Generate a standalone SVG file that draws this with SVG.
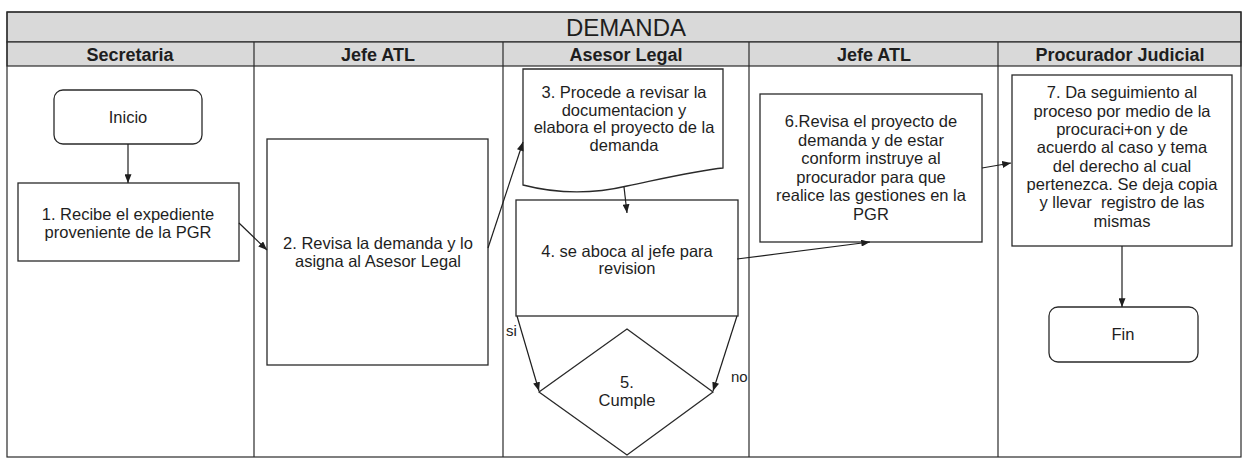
<svg xmlns="http://www.w3.org/2000/svg" width="1246" height="458" viewBox="0 0 1246 458">
<style>
.t{font-family:"Liberation Sans",Arial,sans-serif;font-size:16.5px;fill:#1e1e1e;text-anchor:middle}
.l{font-family:"Liberation Sans",Arial,sans-serif;font-size:15px;fill:#1e1e1e}
.h{font-family:"Liberation Sans",Arial,sans-serif;font-size:18px;font-weight:bold;fill:#1e1e1e;text-anchor:middle}
.ti{font-family:"Liberation Sans",Arial,sans-serif;font-size:24px;fill:#1e1e1e;text-anchor:middle}
.box{fill:#fff;stroke:#2a2a2a;stroke-width:1.3}
.ln{fill:none;stroke:#2a2a2a;stroke-width:1.2}
.hdr{fill:#d9d9d9;stroke:#2a2a2a;stroke-width:1.2}
.c{fill:none;stroke:#1e1e1e;stroke-width:1.2;marker-end:url(#ah)}
</style>
<defs>
<marker id="ah" viewBox="0 0 10 8" refX="10" refY="4" markerWidth="9" markerHeight="7" markerUnits="userSpaceOnUse" orient="auto"><path d="M0,0 L10,4 L0,8 z" fill="#1e1e1e"/></marker>
</defs>
<rect x="0" y="0" width="1246" height="458" fill="#fff"/>
<g id="frame">
<rect class="hdr" x="7" y="12" width="1234" height="30"/>
<rect class="hdr" x="7" y="42" width="1234" height="24"/>
<rect class="ln" x="7" y="12" width="1234" height="445"/>
<line class="ln" x1="254" y1="42" x2="254" y2="457"/>
<line class="ln" x1="503" y1="42" x2="503" y2="457"/>
<line class="ln" x1="749" y1="42" x2="749" y2="457"/>
<line class="ln" x1="998" y1="42" x2="998" y2="457"/>
<text class="ti" x="626" y="36">DEMANDA</text>
<text class="h" x="130" y="61">Secretaria</text>
<text class="h" x="378" y="61">Jefe ATL</text>
<text class="h" x="626" y="61">Asesor Legal</text>
<text class="h" x="874" y="61">Jefe ATL</text>
<text class="h" x="1120" y="61">Procurador Judicial</text>
</g>
<g id="inicio">
<rect class="box" x="54" y="90" width="148" height="54" rx="9"/>
<text class="t" x="128" y="123">Inicio</text>
</g>
<g id="n1">
<rect class="box" x="18" y="183" width="221" height="78"/>
<text class="t" x="128" y="220">1. Recibe el expediente</text>
<text class="t" x="128" y="238">proveniente de la PGR</text>
</g>
<g id="n2">
<rect class="box" x="267" y="139" width="221" height="226"/>
<text class="t" x="378" y="249">2. Revisa la demanda y lo</text>
<text class="t" x="378" y="267">asigna al Asesor Legal</text>
</g>
<g id="n3">
<path class="box" d="M523,69 H723 V168 C700,170 670,177 627,186 C585,196 550,192 523,185 Z"/>
<text class="t" x="624" y="98">3. Procede a revisar la</text>
<text class="t" x="624" y="116">documentacion y</text>
<text class="t" x="624" y="133">elabora el proyecto de la</text>
<text class="t" x="624" y="151">demanda</text>
</g>
<g id="n4">
<rect class="box" x="516" y="200" width="222" height="116"/>
<text class="t" x="627" y="257">4. se aboca al jefe para</text>
<text class="t" x="627" y="274">revision</text>
</g>
<g id="n5">
<polygon class="box" points="627,329 713,392 627,455 539,392"/>
<text class="t" x="627" y="388">5.</text>
<text class="t" x="627" y="406">Cumple</text>
</g>
<g id="n6">
<rect class="box" x="760" y="94" width="222" height="148"/>
<text class="t" x="871" y="127">6.Revisa el proyecto de</text>
<text class="t" x="871" y="145.5">demanda y de estar</text>
<text class="t" x="871" y="164">conform instruye al</text>
<text class="t" x="871" y="182.5">procurador para que</text>
<text class="t" x="871" y="201">realice las gestiones en la</text>
<text class="t" x="871" y="219.5">PGR</text>
</g>
<g id="n7">
<rect class="box" x="1012" y="75" width="220" height="171"/>
<text class="t" x="1122" y="98">7. Da seguimiento al</text>
<text class="t" x="1122" y="116.5">proceso por medio de la</text>
<text class="t" x="1122" y="135">procuraci+on y de</text>
<text class="t" x="1122" y="153">acuerdo al caso y tema</text>
<text class="t" x="1122" y="171.5">del derecho al cual</text>
<text class="t" x="1122" y="190">pertenezca. Se deja copia</text>
<text class="t" x="1122" y="208" xml:space="preserve">y llevar  registro de las</text>
<text class="t" x="1122" y="226.5">mismas</text>
</g>
<g id="fin">
<rect class="box" x="1049" y="307" width="149" height="55" rx="9"/>
<text class="t" x="1123" y="340">Fin</text>
</g>
<g id="connectors">
<path class="c" d="M128,144 V183"/>
<path class="c" d="M239,223 L267,250"/>
<path class="c" d="M488,248 L523,142"/>
<path class="c" d="M624,187 L627,213"/>
<path class="c" d="M737,259 L870,242"/>
<path class="c" d="M982,168 L1011,163"/>
<path class="c" d="M1122,246 V307"/>
<path class="c" d="M517,316 L539,391"/>
<path class="c" d="M737,316 L713,391"/>
<text class="l" x="506" y="336">si</text>
<text class="l" x="731" y="382">no</text>
</g>
</svg>
